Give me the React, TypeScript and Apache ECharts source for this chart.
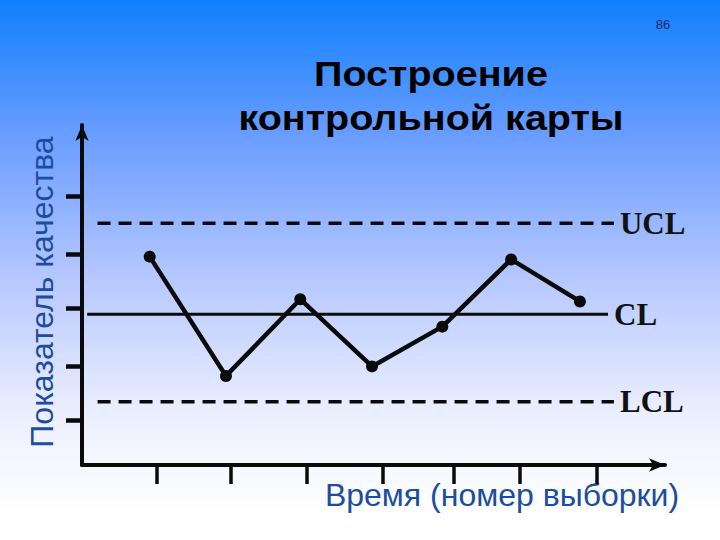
import { useEffect, useRef } from "react";
import * as echarts from "echarts";

const sampleX = [0.915, 1.946, 2.95, 3.92, 4.87, 5.8, 6.73];
const sampleY = [3.92, 1.79, 3.16, 1.96, 2.67, 3.87, 3.12];
const limitNames = ["UCL", "CL", "LCL"];
const limitValues = [4.516, 2.891, 1.33];
const limitStart = [0.21, 0.07, 0.21];
const limitEnd = [7.19, 7.11, 7.19];
const limitDashed = [true, false, true];
const xTicks = [1.017, 2.01, 3.04, 4.06, 5.02, 5.92, 6.96];
const yTicks = [1, 1.97, 2.99, 3.96, 5.0];

const titleLines = ["Построение", "контрольной карты"];
const yTitle = "Показатель качества";
const xTitle = "Время (номер выборки)";
const pageNo = "86";

export default function App() {
  const ref = useRef<HTMLDivElement>(null);
  useEffect(() => {
    if (!ref.current) return;
    const chart = echarts.init(ref.current, null, { renderer: "svg" });
    const limitSeries = limitNames.map((name, i) => ({
      type: "line",
      name,
      data: [
        [limitStart[i], limitValues[i]],
        [limitEnd[i], limitValues[i]],
      ],
      symbol: "none",
      silent: true,
      lineStyle: {
        color: "#0a0a0a",
        width: limitDashed[i] ? 3.5 : 3,
        type: limitDashed[i] ? [13, 8] : "solid",
      },
      endLabel: {
        show: true,
        formatter: name,
        distance: 6,
        fontFamily: '"Liberation Serif", "Times New Roman", serif',
        fontWeight: "bold",
        fontSize: 31,
        color: "#111",
      },
      z: 2,
    }));
    chart.setOption({
      animation: false,
      backgroundColor: {
        type: "linear",
        x: 0,
        y: 0,
        x2: 0,
        y2: 1,
        colorStops: [
          { offset: 0, color: "#0f80fc" },
          { offset: 0.24, color: "#669bff" },
          { offset: 0.5, color: "#b2c5ff" },
          { offset: 0.76, color: "#ebeeff" },
          { offset: 0.95, color: "#ffffff" },
          { offset: 1, color: "#ffffff" },
        ],
      },
      grid: { left: 82, right: 55, top: 125, bottom: 75, containLabel: false },
      xAxis: {
        type: "value",
        min: 0,
        max: 7.88,
        splitLine: { show: false },
        axisLabel: { show: false },
        axisLine: {
          show: true,
          symbol: ["none", "arrow"],
          symbolSize: [10, 16],
          lineStyle: { color: "#0a0a0a", width: 4 },
        },
        axisTick: {
          show: true,
          customValues: xTicks,
          length: 19,
          inside: false,
          lineStyle: { color: "#0a0a0a", width: 3.5 },
        },
      },
      yAxis: {
        type: "value",
        min: 0.2,
        max: 6.27,
        splitLine: { show: false },
        axisLabel: { show: false },
        axisLine: {
          show: true,
          symbol: ["none", "arrow"],
          symbolSize: [10, 16],
          lineStyle: { color: "#0a0a0a", width: 4 },
        },
        axisTick: {
          show: true,
          customValues: yTicks,
          length: 16,
          inside: false,
          lineStyle: { color: "#0a0a0a", width: 4.5 },
        },
      },
      series: [
        ...limitSeries,
        {
          type: "line",
          name: "Выборки",
          data: sampleX.map((x, i) => [x, sampleY[i]]),
          symbol: "circle",
          symbolSize: 12,
          lineStyle: { color: "#0a0a0a", width: 4.5 },
          itemStyle: { color: "#0a0a0a" },
          z: 3,
        },
      ],
      graphic: [
        {
          type: "text",
          x: 431,
          y: 74,
          scaleX: 1.13,
          style: {
            text: titleLines[0],
            fontFamily: '"Liberation Sans", Arial, sans-serif',
            fontWeight: "bold",
            fontSize: 35,
            fill: "#000",
            align: "center",
            verticalAlign: "middle",
          },
        },
        {
          type: "text",
          x: 431,
          y: 118,
          scaleX: 1.13,
          style: {
            text: titleLines[1],
            fontFamily: '"Liberation Sans", Arial, sans-serif',
            fontWeight: "bold",
            fontSize: 35,
            fill: "#000",
            align: "center",
            verticalAlign: "middle",
          },
        },
        {
          type: "text",
          x: 42,
          y: 292,
          rotation: Math.PI / 2,
          style: {
            text: yTitle,
            fontFamily: '"Liberation Sans", Arial, sans-serif',
            fontSize: 32,
            fill: "#1c4d9e",
            align: "center",
            verticalAlign: "middle",
          },
        },
        {
          type: "text",
          x: 502,
          y: 495,
          style: {
            text: xTitle,
            fontFamily: '"Liberation Sans", Arial, sans-serif',
            fontSize: 32,
            fill: "#1c4d9e",
            align: "center",
            verticalAlign: "middle",
          },
        },
        {
          type: "text",
          x: 663,
          y: 24,
          style: {
            text: pageNo,
            fontFamily: '"Liberation Sans", Arial, sans-serif',
            fontSize: 13,
            fill: "#1a2a6a",
            align: "center",
            verticalAlign: "middle",
          },
        },
      ],
    });
    return () => chart.dispose();
  }, []);
  return (
    <div
      ref={ref}
      style={{ position: "fixed", left: 0, top: 0, width: 720, height: 540 }}
    />
  );
}
